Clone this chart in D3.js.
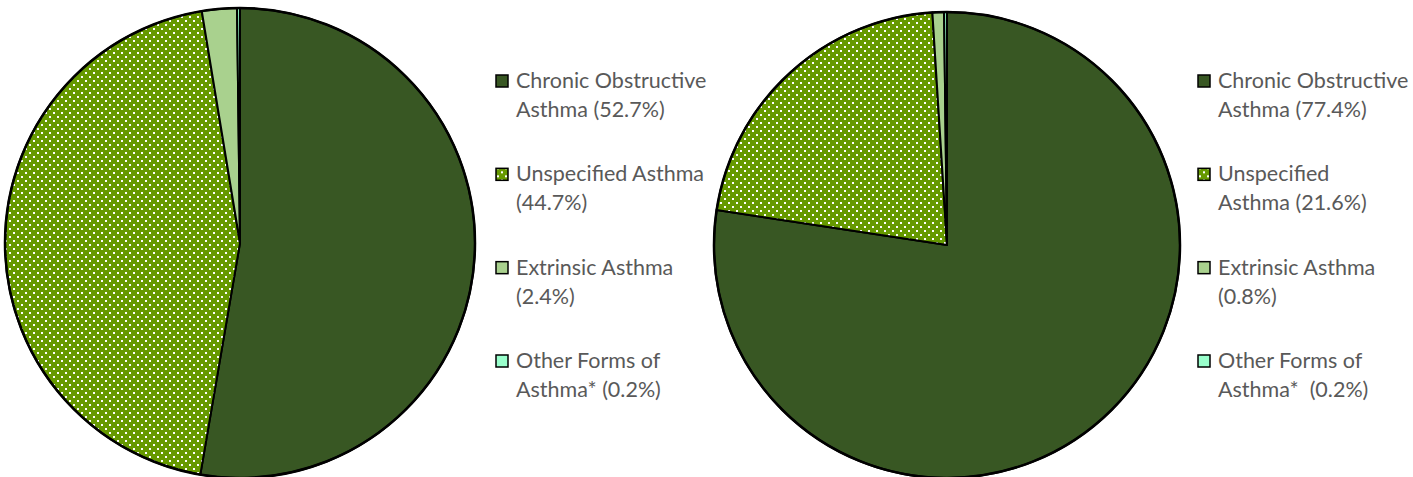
<!DOCTYPE html>
<html>
<head>
<meta charset="UTF-8">
<title>Asthma pies</title>
<style>
  body { margin: 0; background: #ffffff; }
  .legend text { font-family: 'Lato'; font-size: 21.5px; fill: #595959; }
</style>
</head>
<body>
<script src="https://d3js.org/d3.v7.min.js"></script>
<script>
  const categories = ['Chronic Obstructive Asthma', 'Unspecified Asthma', 'Extrinsic Asthma', 'Other Forms of Asthma*'];
  const leftValues = [52.7, 44.7, 2.4, 0.2];
  const rightValues = [77.4, 21.6, 0.8, 0.2];
  const leftLabels = [
    ['Chronic Obstructive', 'Asthma (52.7%)'],
    ['Unspecified Asthma', '(44.7%)'],
    ['Extrinsic Asthma', '(2.4%)'],
    ['Other Forms of', 'Asthma* (0.2%)']
  ];
  const rightLabels = [
    ['Chronic Obstructive', 'Asthma (77.4%)'],
    ['Unspecified', 'Asthma (21.6%)'],
    ['Extrinsic Asthma', '(0.8%)'],
    ['Other Forms of', 'Asthma*\u00a0 (0.2%)']
  ];

  const W = 1413, H = 477;
  const svg = d3.select('body').append('svg').attr('width', W).attr('height', H);

  // dotted pattern for unspecified asthma
  const defs = svg.append('defs');
  const pat = defs.append('pattern')
      .attr('id', 'dots')
      .attr('patternUnits', 'userSpaceOnUse')
      .attr('width', 8).attr('height', 8);
  pat.append('rect').attr('width', 8).attr('height', 8).attr('fill', '#669900');
  pat.append('rect').attr('x', 1).attr('y', 1).attr('width', 2).attr('height', 2).attr('fill', '#ffffff');
  pat.append('rect').attr('x', 5).attr('y', 5).attr('width', 2).attr('height', 2).attr('fill', '#ffffff');

  const color = d3.scaleOrdinal()
      .domain(categories)
      .range(['#385723', 'url(#dots)', '#a9d18e', '#99ffcc']);

  const pie = d3.pie().sort(null).value(d => d.value);

  function drawPie(values, labels, cx, cy, r, legendX) {
    const data = categories.map((c, i) => ({ cat: c, value: values[i] }));
    const arc = d3.arc().innerRadius(0).outerRadius(r);

    const g = svg.append('g').attr('transform', `translate(${cx},${cy})`);
    g.selectAll('path')
      .data(pie(data))
      .enter()
      .append('path')
      .attr('d', arc)
      .attr('fill', d => color(d.data.cat))
      .attr('stroke', '#000000')
      .attr('stroke-width', 2)
      .attr('stroke-linejoin', 'round');

    // outer rim is drawn a little heavier
    g.append('circle').attr('r', r).attr('fill', 'none')
      .attr('stroke', '#000000').attr('stroke-width', 2.5);

    // legend
    const y = d3.scalePoint().domain(categories).range([81, 361]);
    const lg = svg.append('g').attr('class', 'legend');
    const item = lg.selectAll('g')
      .data(categories)
      .enter()
      .append('g')
      .attr('transform', d => `translate(${legendX},${y(d)})`);

    item.append('rect')
      .attr('x', 0).attr('y', -6)
      .attr('width', 12).attr('height', 12)
      .attr('fill', d => color(d))
      .attr('stroke', '#000000')
      .attr('stroke-width', 1.5);

    item.each(function(d, i) {
      const t = d3.select(this).append('text').attr('x', 20).attr('y', 7);
      labels[i].forEach((line, j) => {
        t.append('tspan').attr('x', 20).attr('dy', j === 0 ? 0 : 29).text(line);
      });
    });
  }

  drawPie(leftValues, leftLabels, 240, 243, 235, 496);
  drawPie(rightValues, rightLabels, 947, 245, 233, 1198);
</script>
</body>
</html>
